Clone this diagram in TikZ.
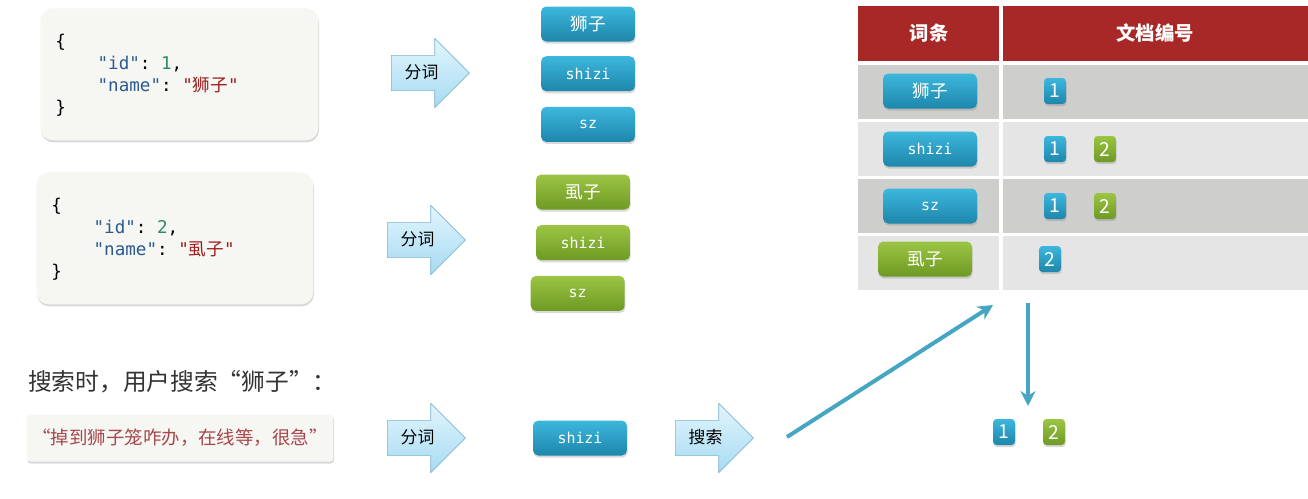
\documentclass[tikz,border=0pt]{standalone}
\usepackage{fontspec}
\setmainfont{Noto Sans CJK SC}
\setmonofont{DejaVu Sans Mono}
\newfontfamily\cjk{Noto Sans CJK SC}
\usepackage{xcolor}
\definecolor{cTokT}{HTML}{3DB7DD}
\definecolor{cTokB}{HTML}{1E86AB}
\definecolor{cGrnT}{HTML}{9CC544}
\definecolor{cGrnB}{HTML}{6E9A24}
\definecolor{cArrT}{HTML}{E2F5FD}
\definecolor{cArrB}{HTML}{A6DBF2}
\definecolor{cArrEdge}{HTML}{7DB5CF}
\definecolor{cHead}{HTML}{A82828}
\definecolor{cRowD}{HTML}{CECECC}
\definecolor{cRowL}{HTML}{E5E5E5}
\definecolor{cPaper}{HTML}{F6F6F3}
\definecolor{cKey}{HTML}{2B5A91}
\definecolor{cNum}{HTML}{2D8A66}
\definecolor{cStr}{HTML}{A01C1C}
\definecolor{cQuote}{HTML}{A7474D}
\definecolor{cFlow}{HTML}{45A6C3}
\definecolor{cInk}{HTML}{333333}
\usepackage{tikz}
\usetikzlibrary{positioning,arrows.meta,shapes.arrows,shadows}
\newcommand{\zh}[1]{{\cjk\fontsize{10}{12}\selectfont #1}}
\tikzset{
  soft-shadow/.style={drop shadow={opacity=0.3,shadow xshift=0.4pt,shadow yshift=-1.2pt}},
  code-box/.style={fill=cPaper,rounded corners=7pt,soft-shadow,anchor=north west,
    minimum width=5.56cm,minimum height=2.64cm},
  code-text/.style={anchor=west,inner sep=0pt,align=left,
    font=\ttfamily\fontsize{10}{12.5}\selectfont},
  tok-blue/.style={top color=cTokT,bottom color=cTokB,rounded corners=3pt,soft-shadow,
    minimum width=1.88cm,minimum height=0.7cm,text=white,inner sep=0pt,
    font=\ttfamily\fontsize{8.5}{10}\selectfont},
  tok-green/.style={tok-blue,top color=cGrnT,bottom color=cGrnB},
  id-blue/.style={tok-blue,minimum width=0.44cm,minimum height=0.52cm,rounded corners=2pt,
    font=\fontsize{11}{12}\selectfont},
  id-green/.style={id-blue,top color=cGrnT,bottom color=cGrnB},
  cut-arrow/.style={single arrow,single arrow head extend=0.34cm,draw=cArrEdge,
    top color=cArrT,bottom color=cArrB,minimum height=1.56cm,anchor=west,
    inner xsep=3pt,inner ysep=0.17cm,text height=0.8em,text depth=0.2em,
    font=\fontsize{9.6}{11}\selectfont},
  head-text/.style={text=white,font=\bfseries\fontsize{11}{13}\selectfont},
  flow-arrow/.style={-{Stealth[length=3mm,width=3mm]},line width=0.8mm,draw=cFlow},
}
\begin{document}
\begin{tikzpicture}[x=0.02cm,y=-0.02cm]
  \useasboundingbox (0,0) rectangle (1308,498);
  % documents
  \node[code-box] (doc1) at (40,8) {};
  \node[code-text] (json1) at (55,75) {\{\\
    \phantom{xxxx}\textcolor{cKey}{"id"}: \textcolor{cNum}{1},\\
    \phantom{xxxx}\textcolor{cKey}{"name"}: \textcolor{cStr}{"{\cjk 狮子}"}\\
    \}};
  \node[code-box,minimum width=5.54cm] (doc2) at (36,172) {};
  \node[code-text] (json2) at (51,239) {\{\\
    \phantom{xxxx}\textcolor{cKey}{"id"}: \textcolor{cNum}{2},\\
    \phantom{xxxx}\textcolor{cKey}{"name"}: \textcolor{cStr}{"{\cjk 虱子}"}\\
    \}};
  % tokenizer
  \node[cut-arrow] (cut1) at (391,73) {分词};
  \node[cut-arrow] (cut2) at (387,240) {分词};
  \node[cut-arrow] (cut3) at (387,438) {分词};
  \node[cut-arrow] (find) at (675,438) {搜索};
  % terms
  \node[tok-blue] (t1a) at (588,24) {\zh{狮子}};
  \node[tok-blue,below=0.28cm of t1a] (t1b) {shizi};
  \node[tok-blue,below=0.3cm of t1b] (t1c) {sz};
  \node[tok-green] (t2a) at (583,192) {\zh{虱子}};
  \node[tok-green,below=0.3cm of t2a] (t2b) {shizi};
  \node[tok-green,below=0.3cm of t2b,xshift=-3] (t2c) {sz};
  % query
  \node[anchor=west,text=cInk,font=\fontsize{13.5}{16}\selectfont] (ask) at (22,382)
    {搜索时，用户搜索“狮子”：};
  \node[fill=cPaper,rounded corners=2pt,soft-shadow,minimum width=6cm,minimum height=0.94cm,
    text=cQuote,font=\fontsize{10.5}{12}\selectfont] (qbox) at (180,438)
    {“掉到狮子笼咋办，在线等，很急”};
  \node[tok-blue] (qtok) at (580,438) {shizi};
  % inverted index
  \fill[cHead] (858,6) rectangle (999,61);
  \fill[cHead] (1003,6) rectangle (1308,61);
  \fill[cRowD] (858,65) rectangle (999,119);
  \fill[cRowD] (1003,65) rectangle (1308,119);
  \fill[cRowL] (858,122) rectangle (999,176);
  \fill[cRowL] (1003,122) rectangle (1308,176);
  \fill[cRowD] (858,179) rectangle (999,233);
  \fill[cRowD] (1003,179) rectangle (1308,233);
  \fill[cRowL] (858,236) rectangle (999,290);
  \fill[cRowL] (1003,236) rectangle (1308,290);
  \node[head-text] (hterm) at (929,33) {词条};
  \node[head-text] (hdocs) at (1155,33) {文档编号};
  \node[tok-blue] (r1) at (930,91) {\zh{狮子}};
  \node[tok-blue] (r2) at (930,149) {shizi};
  \node[tok-blue] (r3) at (930,206) {sz};
  \node[tok-green] (r4) at (925,259) {\zh{虱子}};
  \node[id-blue] (r1a) at (1055,91) {1};
  \node[id-blue] (r2a) at (1055,149) {1};
  \node[id-green] (r2b) at (1105,149) {2};
  \node[id-blue] (r3a) at (1055,206) {1};
  \node[id-green] (r3b) at (1105,206) {2};
  \node[id-blue] (r4a) at (1050,259) {2};
  % result
  \node[id-blue] (hit1) at (1004,432) {1};
  \node[id-green] (hit2) at (1054,432) {2};
  \coordinate (qs) at (787,437);
  \coordinate (qe) at (993,305);
  \coordinate (ds) at (1028,303);
  \coordinate (de) at (1028,406);
  \draw[flow-arrow] (qs) -- (qe);
  \draw[flow-arrow] (ds) -- (de);
\end{tikzpicture}
\end{document}
